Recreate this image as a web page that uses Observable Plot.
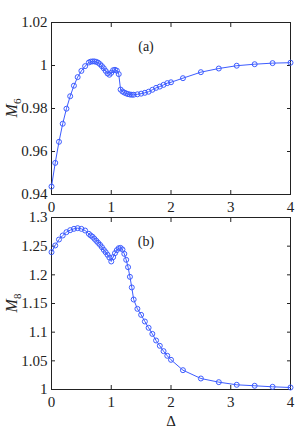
<!DOCTYPE html>
<html>
<head>
<meta charset="utf-8">
<script src="https://cdn.jsdelivr.net/npm/d3@7"></script>
<script src="https://cdn.jsdelivr.net/npm/@observablehq/plot@0.6"></script>
<style>
  html, body { margin: 0; padding: 0; background: #fff; }
  #chart svg { display: block; overflow: visible !important; }
</style>
</head>
<body>
<div id="chart"></div>
<script>
// Δ grid shared by both panels
const delta = [0, 0.0625, 0.125, 0.1875, 0.25, 0.3125, 0.375, 0.4375, 0.5, 0.5625,
  0.625, 0.65625, 0.6875, 0.71875, 0.75, 0.78125, 0.8125, 0.84375, 0.875, 0.90625,
  0.9375, 0.96875, 1.0, 1.03125, 1.0625, 1.09375, 1.125, 1.15625, 1.1875, 1.21875,
  1.25, 1.28125, 1.3125, 1.34375, 1.375, 1.4375, 1.5, 1.5625, 1.625, 1.6875,
  1.75, 1.8125, 1.875, 1.9375, 2.0, 2.2, 2.5, 2.8, 3.1, 3.4, 3.7, 4.0];

const m6 = [0.9437, 0.9547, 0.9645, 0.9729, 0.9799, 0.9857, 0.9906, 0.9946, 0.9975, 0.9997,
  1.0014, 1.0018, 1.0019, 1.0019, 1.0017, 1.0013, 1.0006, 0.9997, 0.9987, 0.9975,
  0.9963, 0.9957, 0.9966, 0.9978, 0.9980, 0.9976, 0.9960, 0.9888, 0.9879, 0.9874,
  0.9870, 0.9867, 0.9865, 0.9864, 0.9864, 0.9866, 0.9869, 0.9873, 0.9878, 0.9887,
  0.9896, 0.9902, 0.9910, 0.9918, 0.9922, 0.9941, 0.9969, 0.9986, 0.9999, 1.0006, 1.0011, 1.0013];

const m8 = [1.2395, 1.2512, 1.2616, 1.2686, 1.2744, 1.2779, 1.2802, 1.2814, 1.2802, 1.2773,
  1.2715, 1.2686, 1.2663, 1.2628, 1.2593, 1.2558, 1.2523, 1.2482, 1.2436, 1.2395,
  1.2350, 1.2302, 1.2233, 1.2308, 1.2378, 1.2430, 1.2465, 1.2470, 1.2442, 1.2366,
  1.2262, 1.2134, 1.1965, 1.1780, 1.1570, 1.1407, 1.1302, 1.1186, 1.1076, 1.0970,
  1.0855, 1.0762, 1.0669, 1.0588, 1.0518, 1.0337, 1.0192, 1.0128, 1.0082, 1.0065, 1.0047, 1.0035];

const xTicks = [0, 1, 2, 3, 4];
const yTicksTop = [0.94, 0.96, 0.98, 1, 1.02];
const yTicksBottom = [1, 1.05, 1.1, 1.15, 1.2, 1.25, 1.3];
const panelLabels = ["(a)", "(b)"];
const yLabels = [["M", "6"], ["M", "8"]];
const xLabel = "Δ";

const blue = "#3d5cff";
const ink = "#222";
const font = "'Liberation Serif', 'Times New Roman', serif";
const fmt = d => String(+d.toFixed(2));

function panel({values, yDomain, yTicks, tag, ylab, height, marginTop, marginBottom, showXLabel}) {
  const data = delta.map((d, i) => ({x: d, y: values[i]}));
  const svg = Plot.plot({
    width: 299,
    height,
    marginLeft: 51,
    marginRight: 9,
    marginTop,
    marginBottom,
    style: {fontFamily: font, fontSize: "15px", color: ink, background: "#fff", overflow: "visible"},
    x: {domain: [0, 4]},
    y: {domain: yDomain},
    marks: [
      Plot.axisX({anchor: "bottom", ticks: xTicks, tickFormat: fmt, tickSize: -4, tickPadding: 11,
        label: showXLabel ? xLabel : null, labelAnchor: "center", labelArrow: "none", labelOffset: 36, fontSize: 15}),
      Plot.axisX({anchor: "top", ticks: xTicks, tickSize: -4, tickFormat: () => "", label: null}),
      Plot.axisY({anchor: "left", ticks: yTicks, tickFormat: fmt, tickSize: -4, tickPadding: 8, label: null, fontSize: 15}),
      Plot.axisY({anchor: "right", ticks: yTicks, tickSize: -4, tickFormat: () => "", label: null}),
      Plot.frame({stroke: ink, strokeWidth: 1}),
      Plot.line(data, {x: "x", y: "y", stroke: blue, strokeWidth: 1}),
      Plot.dot(data, {x: "x", y: "y", r: 2.5, stroke: blue, strokeWidth: 1, fill: "none"}),
      Plot.text([tag], {frameAnchor: "top", dx: -25, dy: 19, fontSize: 14, fill: ink})
    ]
  });
  // y-axis label with italic M and subscript
  const cy = marginTop + (height - marginTop - marginBottom) / 2;
  const t = d3.select(svg).append("text")
    .attr("transform", `translate(17,${cy}) rotate(-90)`)
    .attr("text-anchor", "middle")
    .attr("font-family", font)
    .attr("font-size", 16)
    .attr("fill", ink);
  t.append("tspan").attr("font-style", "italic").text(ylab[0]);
  t.append("tspan").attr("font-size", 11).attr("dy", 4).text(ylab[1]);
  return svg;
}

const root = document.getElementById("chart");
root.appendChild(panel({values: m6, yDomain: [0.94, 1.02], yTicks: yTicksTop, tag: panelLabels[0],
  ylab: yLabels[0], height: 214, marginTop: 22, marginBottom: 20, showXLabel: false}));
root.appendChild(panel({values: m8, yDomain: [1, 1.3], yTicks: yTicksBottom, tag: panelLabels[1],
  ylab: yLabels[1], height: 220, marginTop: 3, marginBottom: 45, showXLabel: true}));
</script>
</body>
</html>
